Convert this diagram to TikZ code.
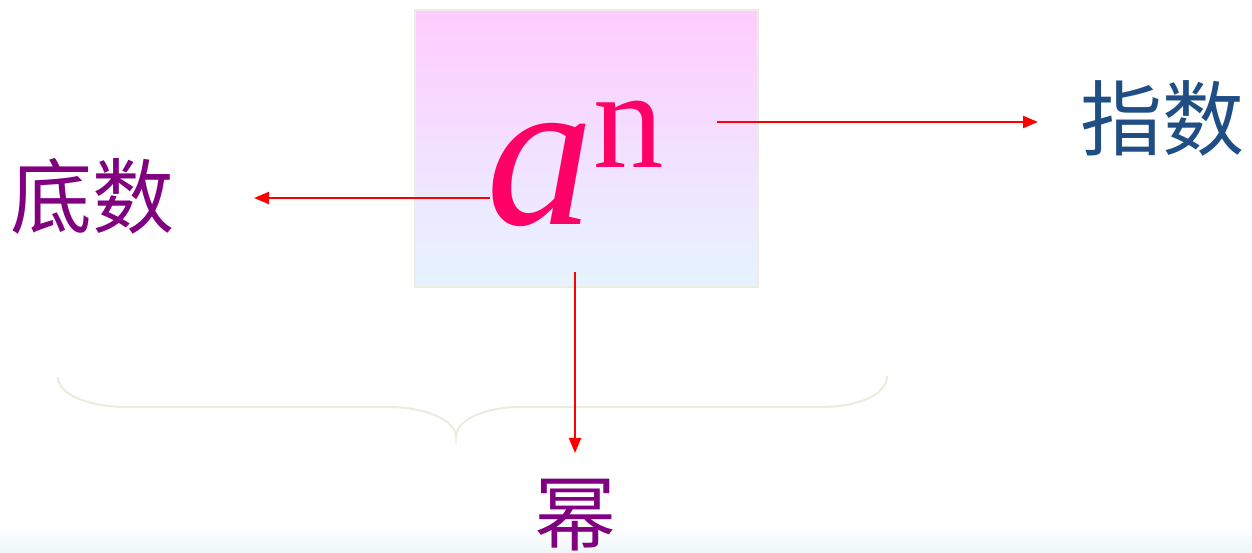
\documentclass[tikz,border=0pt]{standalone}
\usepackage{fontspec}
\setmainfont{Liberation Serif}
\newfontfamily\cjk{Noto Sans CJK SC}
\usetikzlibrary{arrows.meta}
\definecolor{boxtop}{HTML}{FFCCFF}
\definecolor{boxbot}{HTML}{E6F4FF}
\definecolor{boxedge}{HTML}{EEEBE0}
\definecolor{powpink}{HTML}{FF0066}
\definecolor{labpurple}{HTML}{800080}
\definecolor{labblue}{HTML}{1F4E85}
\definecolor{bracecol}{HTML}{EEEBDC}
\definecolor{floorcol}{HTML}{EEF6F8}
\tikzset{
  pointer/.style={draw=red, line width=2pt, -{Triangle[length=15pt,width=12pt]}},
  cjklabel/.style={font=\cjk\fontsize{82}{82}\selectfont, inner sep=0pt, anchor=base west},
}
\begin{document}
\begin{tikzpicture}[x=1pt,y=1pt]
\useasboundingbox (0,0) rectangle (1252,553);
% faint floor band along the lower edge
\shade[top color=white, bottom color=floorcol] (0,0) rectangle (1252,28);
% gradient box behind the power
\node[draw=boxedge, line width=2pt, top color=boxtop, bottom color=boxbot,
      minimum width=343pt, minimum height=277pt, inner sep=0pt, anchor=south west]
      (box) at (414,265) {};
% the power a^n
\node[inner sep=0pt, anchor=base west, text=powpink] (pow) at (486,328)
  {{\fontsize{215}{215}\selectfont\itshape a}\raisebox{57pt}{\fontsize{141}{141}\selectfont n}};
% labels
\node[cjklabel, text=labpurple] (base) at (10,325) {底数};
\node[cjklabel, text=labblue] (expo) at (1080,403) {指数};
\node[cjklabel, text=labpurple] (power) at (534,8) {幂};
% arrow end points
\coordinate (expoFrom) at (717,431);
\coordinate (expoTo) at (1038,431);
\coordinate (baseFrom) at (490,355);
\coordinate (baseTo) at (254,355);
\coordinate (powFrom) at (575,281);
\coordinate (powTo) at (575,100);
\draw[pointer] (expoFrom) -- (expoTo);
\draw[pointer] (baseFrom) -- (baseTo);
% brace under the expression
\draw[bracecol, line width=2pt]
  (58,176) .. controls (58,158) and (90,146) .. (127,146) -- (388,146)
  .. controls (425,146) and (456,133) .. (456,116)
  .. controls (456,133) and (485,146) .. (520,146) -- (821,146)
  .. controls (858,146) and (887,158) .. (887,177);
\draw[pointer] (powFrom) -- (powTo);
\end{tikzpicture}
\end{document}
